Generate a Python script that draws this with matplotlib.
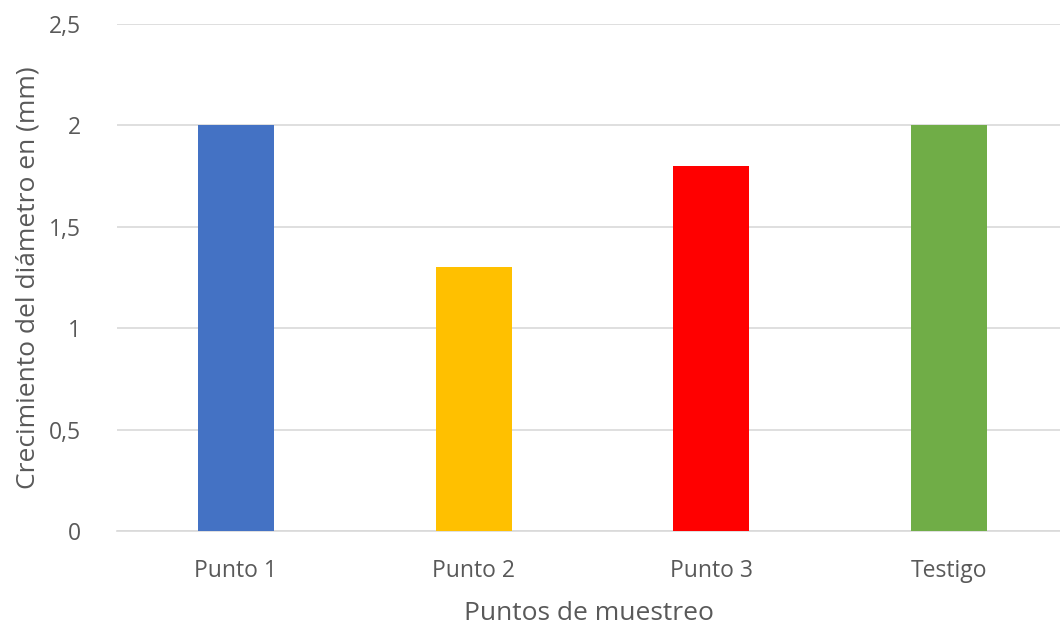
import matplotlib
matplotlib.use("Agg")
import matplotlib.pyplot as plt

plt.rcParams['font.family'] = ['Open Sans', 'DejaVu Sans']

categories = ["Punto 1", "Punto 2", "Punto 3", "Testigo"]
values = [2.0, 1.3, 1.8, 2.0]
colors = ["#4472C4", "#FFC000", "#FF0000", "#70AD47"]
y_ticks = [0, 0.5, 1, 1.5, 2, 2.5]
y_tick_labels = ["0", "0,5", "1", "1,5", "2", "2,5"]

fig = plt.figure(figsize=(10.6, 6.27), dpi=100)
ax = fig.add_axes([117 / 1060, 1 - 531 / 627, 943 / 1060, (531 - 24) / 627])

x = list(range(len(categories)))
ax.bar(x, values, width=0.32, color=colors, zorder=3)

ax.set_ylim(0, 2.5)
ax.set_xlim(-0.5, 943 / 237.7 - 0.5)
ax.set_yticks(y_ticks)
ax.set_yticklabels(y_tick_labels)
ax.set_xticks(x)
ax.set_xticklabels(categories)

ax.grid(axis='y', color='#D9D9D9', linewidth=1.2, zorder=0)
for side in ['top', 'right', 'left']:
    ax.spines[side].set_visible(False)
ax.spines['bottom'].set_color('#D9D9D9')
ax.spines['bottom'].set_linewidth(1.2)
ax.tick_params(axis='both', length=0, labelsize=16.5, colors='#595959')
ax.tick_params(axis='y', pad=26)
ax.tick_params(axis='x', pad=20)

ax.set_xlabel("Puntos de muestreo", fontsize=19, color='#595959', labelpad=13)
ax.set_ylabel("Crecimiento del diámetro en (mm)", fontsize=19, color='#595959', labelpad=6)

fig.savefig("out.png", dpi=100)
